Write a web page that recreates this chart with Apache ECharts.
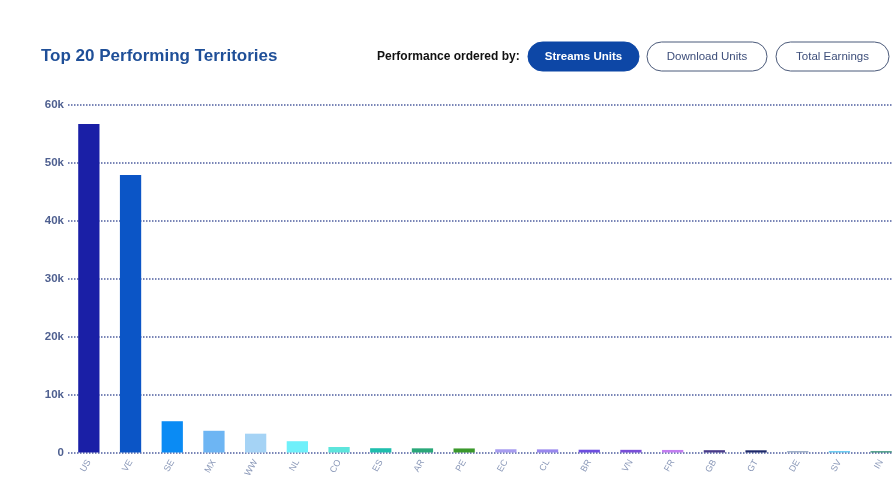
<!DOCTYPE html>
<html>
<head>
<meta charset="utf-8">
<title>Top 20 Performing Territories</title>
<script src="https://cdn.jsdelivr.net/npm/echarts@6/dist/echarts.min.js"></script>
<style>
  html, body { margin: 0; padding: 0; background: #ffffff; overflow: hidden; }
  /* the plot runs slightly past the right edge of the view */
  #chart { width: 902px; height: 502px; }
</style>
</head>
<body>
<div id="chart"></div>
<script>
// Territory codes, ordered by stream units
const territories = ['US', 'VE', 'SE', 'MX', 'WW', 'NL', 'CO', 'ES', 'AR', 'PE',
                     'EC', 'CL', 'BR', 'VN', 'FR', 'GB', 'GT', 'DE', 'SV', 'IN'];
// Stream units per territory
const streamUnits = [56700, 47900, 5400, 3750, 3250, 1950, 950, 740, 720, 700,
                     560, 540, 480, 460, 440, 400, 380, 260, 240, 220];
// One colour per territory bar
const barColors = ['#1a1fa6', '#0b55c6', '#0a8bf4', '#6db5f3', '#a5d3f5', '#6ff0fa', '#5de5dc', '#1fbfae', '#2ba87a', '#3b992c',
                   '#a89df0', '#9a88ee', '#6f4fe0', '#7a4fd8', '#c47ef0', '#4a3c8a', '#1f2a6a', '#a0b0c8', '#5cc6f0', '#2a8a6e'];
// Value axis ticks
const yTicks = [0, 10000, 20000, 30000, 40000, 50000, 60000];
const yTickLabels = ['0', '10k', '20k', '30k', '40k', '50k', '60k'];
// Sort buttons in the header
const sortOptions = ['Streams Units', 'Download Units', 'Total Earnings'];

const chart = echarts.init(document.getElementById('chart'), null, { renderer: 'canvas' });

const buttonBoxes = [
  { x: 528, w: 111 },
  { x: 647, w: 120 },
  { x: 776, w: 113 }
];
const buttons = [];
sortOptions.forEach((label, i) => {
  const b = buttonBoxes[i];
  const active = i === 0;
  buttons.push({
    type: 'rect',
    shape: { x: b.x, y: 42, width: b.w, height: 29, r: 14.5 },
    style: {
      fill: active ? '#0d47a6' : '#ffffff',
      stroke: active ? '#0d47a6' : '#4b5a7a',
      lineWidth: 1
    }
  });
  buttons.push({
    type: 'text',
    x: b.x + b.w / 2,
    y: 56.5,
    style: {
      text: label,
      fill: active ? '#ffffff' : '#3d4e7a',
      font: (active ? 'bold ' : '') + '11.5px "Liberation Sans", Arial, sans-serif',
      align: 'center',
      verticalAlign: 'middle'
    }
  });
});

chart.setOption({
  animation: false,
  backgroundColor: '#ffffff',
  title: {
    text: 'Top 20 Performing Territories',
    left: 36,
    top: 43,
    textStyle: {
      color: '#1f4f98',
      fontSize: 17,
      fontWeight: 'bold',
      fontFamily: '"Liberation Sans", Arial, sans-serif'
    }
  },
  graphic: [
    {
      type: 'text',
      x: 377,
      y: 56.5,
      style: {
        text: 'Performance ordered by:',
        fill: '#111111',
        font: 'bold 12px "Liberation Sans", Arial, sans-serif',
        verticalAlign: 'middle'
      }
    }
  ].concat(buttons),
  grid: {
    left: 68,
    right: 0,
    top: 105,
    bottom: 49.5,
    containLabel: false
  },
  xAxis: {
    type: 'category',
    data: territories,
    axisLine: { show: false },
    axisTick: { show: false },
    axisLabel: {
      interval: 0,
      rotate: 60,
      margin: 8,
      color: '#8a98b8',
      fontSize: 9,
      fontFamily: '"Liberation Sans", Arial, sans-serif'
    }
  },
  yAxis: {
    type: 'value',
    min: yTicks[0],
    max: yTicks[yTicks.length - 1],
    interval: yTicks[1] - yTicks[0],
    axisLine: { show: false },
    axisTick: { show: false },
    axisLabel: {
      margin: 4,
      color: '#4f6090',
      fontSize: 11.5,
      fontWeight: 'bold',
      fontFamily: '"Liberation Sans", Arial, sans-serif',
      formatter: (v) => yTickLabels[yTicks.indexOf(v)]
    },
    splitLine: {
      show: true,
      lineStyle: { color: '#4d5d9f', width: 1.5, type: [1.5, 1.5] }
    }
  },
  series: [
    {
      type: 'bar',
      barWidth: '51%',
      data: streamUnits.map((v, i) => ({ value: v, itemStyle: { color: barColors[i] } })),
      z: 1
    }
  ]
});
</script>
</body>
</html>
